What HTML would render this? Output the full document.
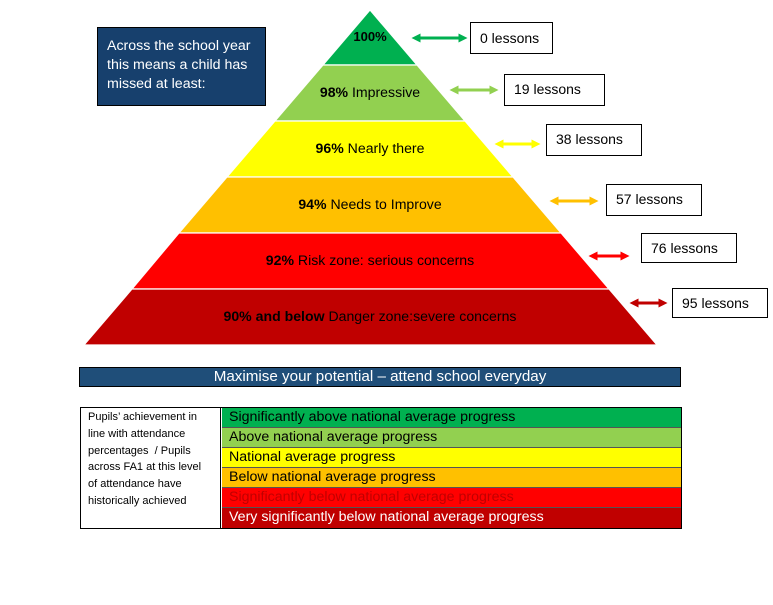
<!DOCTYPE html>
<html><head><meta charset="utf-8"><style>
body{margin:0;width:773px;height:605px;background:#fff;overflow:hidden;font-family:"Liberation Sans",sans-serif;}
.abs{position:absolute;}
</style></head><body>
<svg class="abs" style="left:0;top:0" width="773" height="605" viewBox="0 0 773 605">
<defs>
<marker id="ah" viewBox="0 0 10 10" refX="5" refY="5" markerWidth="3" markerHeight="3" orient="auto-start-reverse"><path d="M0,0L10,5L0,10z" fill="context-stroke"/></marker>
</defs>
<g stroke="#fff" stroke-width="1.2">
<polygon points="370,10 417,65 323,65" fill="#00b050"/>
<polygon points="323,65 417,65 465,121 275,121" fill="#92d050"/>
<polygon points="275,121 465,121 513,177 227,177" fill="#ffff00"/>
<polygon points="227,177 513,177 561,233 179,233" fill="#ffc000"/>
<polygon points="179,233 561,233 609,289 132,289" fill="#ff0000"/>
<polygon points="132,289 609,289 657,345 84,345" fill="#c00000"/>
</g>
<g font-family="Liberation Sans, sans-serif" font-size="14.1" text-anchor="middle" fill="#000">
<text x="370" y="41" font-weight="bold" font-size="13">100%</text>
<text x="370" y="97"><tspan font-weight="bold">98%</tspan> Impressive</text>
<text x="370" y="153"><tspan font-weight="bold">96%</tspan> Nearly there</text>
<text x="370" y="209"><tspan font-weight="bold">94%</tspan> Needs to Improve</text>
<text x="370" y="265"><tspan font-weight="bold">92%</tspan> Risk zone: serious concerns</text>
<text x="370" y="321"><tspan font-weight="bold">90% and below</tspan> Danger zone:severe concerns</text>
</g>
<g stroke-width="3">
<line x1="416" y1="38" x2="463" y2="38" stroke="#00b050" marker-start="url(#ah)" marker-end="url(#ah)"/>
<line x1="454" y1="90" x2="494" y2="90" stroke="#92d050" marker-start="url(#ah)" marker-end="url(#ah)"/>
<line x1="499" y1="144" x2="536" y2="144" stroke="#ffff00" marker-start="url(#ah)" marker-end="url(#ah)"/>
<line x1="554" y1="201" x2="594" y2="201" stroke="#ffc000" marker-start="url(#ah)" marker-end="url(#ah)"/>
<line x1="593" y1="256" x2="625" y2="256" stroke="#ff0000" marker-start="url(#ah)" marker-end="url(#ah)"/>
<line x1="634" y1="303" x2="663" y2="303" stroke="#c00000" marker-start="url(#ah)" marker-end="url(#ah)"/>
</g>
<g fill="#fff" stroke="#000" stroke-width="1">
<rect x="470.5" y="22.5" width="82" height="31"/>
<rect x="504.5" y="74.5" width="100" height="31"/>
<rect x="546.5" y="124.5" width="95" height="31"/>
<rect x="606.5" y="184.5" width="95" height="31"/>
<rect x="641.5" y="233.5" width="95" height="29"/>
<rect x="672.5" y="288.5" width="95" height="29"/>
</g>
<g font-family="Liberation Sans, sans-serif" font-size="14" fill="#000">
<text x="480" y="43">0 lessons</text>
<text x="514" y="94">19 lessons</text>
<text x="556" y="144">38 lessons</text>
<text x="616" y="204">57 lessons</text>
<text x="651" y="253">76 lessons</text>
<text x="682" y="308">95 lessons</text>
</g>
<rect x="97.5" y="27.5" width="168" height="78" fill="#17406d" stroke="#000" stroke-width="1"/>
<g font-family="Liberation Sans, sans-serif" font-size="14.2" fill="#fff">
<text x="107" y="50">Across the school year</text>
<text x="107" y="69">this means a child has</text>
<text x="107" y="88">missed at least:</text>
</g>
</svg>
<div class="abs" style="left:79px;top:367px;width:600px;height:18px;background:#1f4e79;border:1px solid #000;color:#fff;font-size:15.2px;text-align:center;line-height:18px;">Maximise your potential – attend school everyday</div>
<div class="abs" style="left:80px;top:407px;width:600px;height:120px;border:1px solid #000;">
<div class="abs" style="left:0;top:0;width:140px;height:120px;border-right:1px solid #000;font-size:11px;line-height:16.8px;padding:1px 10px 0 7px;box-sizing:border-box;">Pupils’ achievement in line with attendance percentages &nbsp;/ Pupils across FA1 at this level of attendance have historically achieved</div>
<div class="abs" style="left:141px;top:0;width:459px;font-size:14.2px;line-height:19px;">
<div style="background:#00b050;height:19px;border-bottom:1px solid #555;padding-left:7px;">Significantly above national average progress</div>
<div style="background:#92d050;height:19px;border-bottom:1px solid #555;padding-left:7px;">Above national average progress</div>
<div style="background:#ffff00;height:19px;border-bottom:1px solid #555;padding-left:7px;">National average progress</div>
<div style="background:#ffc000;height:19px;border-bottom:1px solid #555;padding-left:7px;">Below national average progress</div>
<div style="background:#ff0000;height:19px;border-bottom:1px solid #555;padding-left:7px;color:#c00000;">Significantly below national average progress</div>
<div style="background:#c00000;height:20px;padding-left:7px;color:#fff;">Very significantly below national average progress</div>
</div>
</div>
</body></html>
